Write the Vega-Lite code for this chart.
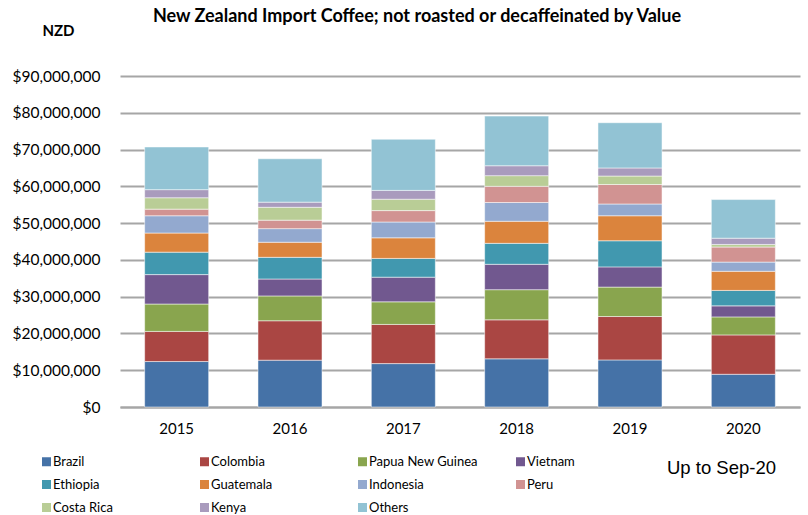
{
  "$schema": "https://vega.github.io/schema/vega-lite/v6.json",
  "autosize": {"type": "none"},
  "width": 680,
  "height": 331,
  "padding": {"left": 120, "top": 76, "right": 8, "bottom": 108},
  "background": "#ffffff",
  "title": {
    "text": "New Zealand Import Coffee; not roasted or decaffeinated by Value",
    "font": "Lato",
    "fontSize": 18,
    "fontWeight": "bold",
    "color": "#000000",
    "anchor": "middle",
    "frame": "group",
    "offset": -3,
    "dx": -43
  },
  "data": {
    "values": [
      {"year": "2015", "country": "Brazil", "value": 12360000},
      {"year": "2015", "country": "Colombia", "value": 8190000},
      {"year": "2015", "country": "Papua New Guinea", "value": 7450000},
      {"year": "2015", "country": "Vietnam", "value": 8000000},
      {"year": "2015", "country": "Ethiopia", "value": 6100000},
      {"year": "2015", "country": "Guatemala", "value": 5200000},
      {"year": "2015", "country": "Indonesia", "value": 4700000},
      {"year": "2015", "country": "Peru", "value": 1800000},
      {"year": "2015", "country": "Costa Rica", "value": 3100000},
      {"year": "2015", "country": "Kenya", "value": 2200000},
      {"year": "2015", "country": "Others", "value": 11600000},
      {"year": "2016", "country": "Brazil", "value": 12730000},
      {"year": "2016", "country": "Colombia", "value": 10720000},
      {"year": "2016", "country": "Papua New Guinea", "value": 6750000},
      {"year": "2016", "country": "Vietnam", "value": 4600000},
      {"year": "2016", "country": "Ethiopia", "value": 5900000},
      {"year": "2016", "country": "Guatemala", "value": 4100000},
      {"year": "2016", "country": "Indonesia", "value": 3700000},
      {"year": "2016", "country": "Peru", "value": 2300000},
      {"year": "2016", "country": "Costa Rica", "value": 3500000},
      {"year": "2016", "country": "Kenya", "value": 1400000},
      {"year": "2016", "country": "Others", "value": 11800000},
      {"year": "2017", "country": "Brazil", "value": 11800000},
      {"year": "2017", "country": "Colombia", "value": 10650000},
      {"year": "2017", "country": "Papua New Guinea", "value": 6150000},
      {"year": "2017", "country": "Vietnam", "value": 6700000},
      {"year": "2017", "country": "Ethiopia", "value": 5100000},
      {"year": "2017", "country": "Guatemala", "value": 5600000},
      {"year": "2017", "country": "Indonesia", "value": 4300000},
      {"year": "2017", "country": "Peru", "value": 3100000},
      {"year": "2017", "country": "Costa Rica", "value": 3100000},
      {"year": "2017", "country": "Kenya", "value": 2400000},
      {"year": "2017", "country": "Others", "value": 13900000},
      {"year": "2018", "country": "Brazil", "value": 13100000},
      {"year": "2018", "country": "Colombia", "value": 10600000},
      {"year": "2018", "country": "Papua New Guinea", "value": 8200000},
      {"year": "2018", "country": "Vietnam", "value": 6900000},
      {"year": "2018", "country": "Ethiopia", "value": 5700000},
      {"year": "2018", "country": "Guatemala", "value": 6000000},
      {"year": "2018", "country": "Indonesia", "value": 5100000},
      {"year": "2018", "country": "Peru", "value": 4400000},
      {"year": "2018", "country": "Costa Rica", "value": 2900000},
      {"year": "2018", "country": "Kenya", "value": 2700000},
      {"year": "2018", "country": "Others", "value": 13500000},
      {"year": "2019", "country": "Brazil", "value": 12800000},
      {"year": "2019", "country": "Colombia", "value": 11800000},
      {"year": "2019", "country": "Papua New Guinea", "value": 8000000},
      {"year": "2019", "country": "Vietnam", "value": 5500000},
      {"year": "2019", "country": "Ethiopia", "value": 7100000},
      {"year": "2019", "country": "Guatemala", "value": 6800000},
      {"year": "2019", "country": "Indonesia", "value": 3200000},
      {"year": "2019", "country": "Peru", "value": 5300000},
      {"year": "2019", "country": "Costa Rica", "value": 2300000},
      {"year": "2019", "country": "Kenya", "value": 2200000},
      {"year": "2019", "country": "Others", "value": 12300000},
      {"year": "2020", "country": "Brazil", "value": 8900000},
      {"year": "2020", "country": "Colombia", "value": 10700000},
      {"year": "2020", "country": "Papua New Guinea", "value": 4900000},
      {"year": "2020", "country": "Vietnam", "value": 3000000},
      {"year": "2020", "country": "Ethiopia", "value": 4200000},
      {"year": "2020", "country": "Guatemala", "value": 5200000},
      {"year": "2020", "country": "Indonesia", "value": 2500000},
      {"year": "2020", "country": "Peru", "value": 4100000},
      {"year": "2020", "country": "Costa Rica", "value": 700000},
      {"year": "2020", "country": "Kenya", "value": 1700000},
      {"year": "2020", "country": "Others", "value": 10500000}
    ]
  },
  "transform": [
    {"window": [{"op": "row_number", "as": "stackIndex"}]}
  ],
  "mark": {"type": "bar", "stroke": "#ffffff", "strokeWidth": 1, "strokeOpacity": 0.5},
  "encoding": {
    "x": {
      "field": "year",
      "type": "nominal",
      "scale": {"paddingInner": 0.435, "paddingOuter": 0.2175},
      "axis": {
        "title": "Up to  Sep-20",
        "titleFont": "Liberation Sans",
        "titleFontSize": 18.5,
        "titleFontWeight": "normal",
        "titleColor": "#000000",
        "titleX": 601,
        "titleY": 60,
        "titleBaseline": "middle",
        "titleAnchor": "middle",
        "labelAngle": 0,
        "labelFont": "Lato",
        "labelFontSize": 15,
        "labelColor": "#000000",
        "labelPadding": 14,
        "ticks": false,
        "domain": true,
        "domainColor": "#a6a6a6",
        "domainWidth": 2
      }
    },
    "y": {
      "field": "value",
      "type": "quantitative",
      "stack": "zero",
      "scale": {"domain": [0, 90000000]},
      "axis": {
        "title": "NZD",
        "titleFont": "Lato",
        "titleFontSize": 15,
        "titleFontWeight": "bold",
        "titleColor": "#000000",
        "titleAngle": 0,
        "titleX": -62,
        "titleY": -46,
        "titleAlign": "center",
        "titleBaseline": "middle",
        "values": [0, 10000000, 20000000, 30000000, 40000000, 50000000, 60000000, 70000000, 80000000, 90000000],
        "format": "$,.0f",
        "labelFont": "Lato",
        "labelFontSize": 15.5,
        "labelColor": "#000000",
        "labelPadding": 20,
        "ticks": false,
        "domain": false,
        "grid": true,
        "gridColor": "#a6a6a6",
        "gridWidth": 2
      }
    },
    "order": {"field": "stackIndex", "type": "quantitative", "sort": "ascending"},
    "color": {
      "field": "country",
      "type": "nominal",
      "scale": {
        "domain": ["Brazil", "Colombia", "Papua New Guinea", "Vietnam", "Ethiopia", "Guatemala", "Indonesia", "Peru", "Costa Rica", "Kenya", "Others"],
        "range": ["#4572A7", "#AA4643", "#89A54E", "#71588F", "#4198AF", "#DB843D", "#93A9CF", "#D19392", "#B9CD96", "#A99BBD", "#92C3D4"]
      },
      "legend": {
        "title": null,
        "orient": "none",
        "direction": "horizontal",
        "legendX": -80,
        "legendY": 379,
        "columns": 4,
        "gridAlign": "all",
        "columnPadding": 36,
        "rowPadding": 9,
        "symbolType": "square",
        "symbolSize": 81,
        "symbolStrokeWidth": 0,
        "symbolOpacity": 1,
        "labelFont": "Lato",
        "labelFontSize": 13,
        "labelColor": "#000000",
        "labelOffset": 0,
        "labelLimit": 200
      }
    }
  },
  "config": {
    "view": {"stroke": null}
  }
}
